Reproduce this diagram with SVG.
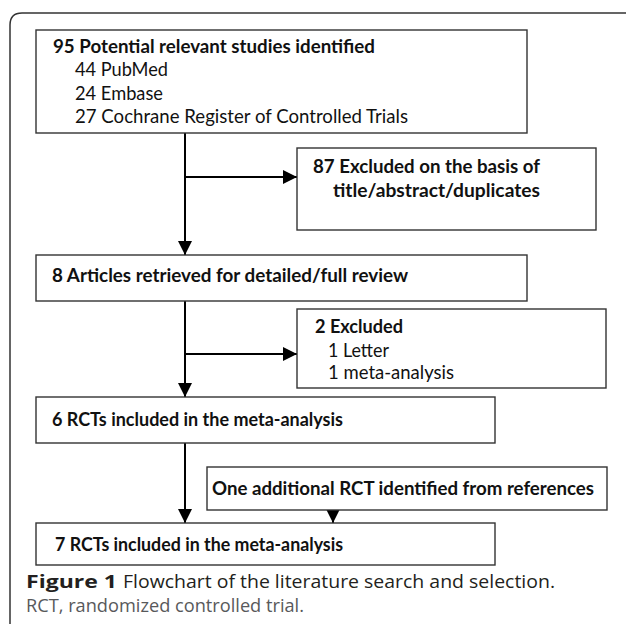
<svg xmlns="http://www.w3.org/2000/svg" width="628" height="624" viewBox="0 0 628 624">
<defs>
<marker id="ah" markerUnits="userSpaceOnUse" markerWidth="14" markerHeight="14" viewBox="0 0 12 12" refX="12" refY="6" orient="auto">
<path d="M0,0 L12,6 L0,12 Z" fill="#000"/>
</marker>
</defs>
<style>
.box{fill:#fff;stroke:#333;stroke-width:1.4}
.t{font-family:Lato,"Open Sans",sans-serif;font-size:19px;fill:#111}
.b{font-weight:700}
.c{stroke:#000;stroke-width:2;fill:none;marker-end:url(#ah)}
.cap{font-family:"Open Sans","Noto Sans",sans-serif;font-size:18px}
</style>
<rect width="628" height="624" fill="#fff"/>
<path d="M10,624 L10,25 Q10,13 22,13 L626,13" fill="none" stroke="#333" stroke-width="1.5"/>
<g id="connectors">
<line class="c" x1="185" y1="133" x2="185" y2="255"/>
<line class="c" x1="185" y1="177" x2="297" y2="177"/>
<line class="c" x1="185" y1="301" x2="185" y2="397"/>
<line class="c" x1="185" y1="354" x2="297" y2="354"/>
<line class="c" x1="185" y1="443" x2="185" y2="523"/>
<line class="c" x1="333" y1="510" x2="333" y2="523"/>
</g>
<g id="n1">
<rect class="box" x="36" y="30" width="491" height="103"/>
<text class="t b" x="53" y="53" textLength="322" lengthAdjust="spacingAndGlyphs">95 Potential relevant studies identified</text>
<text class="t" x="75" y="76" textLength="93" lengthAdjust="spacingAndGlyphs">44 PubMed</text>
<text class="t" x="75" y="100" textLength="88" lengthAdjust="spacingAndGlyphs">24 Embase</text>
<text class="t" x="75" y="123" textLength="333" lengthAdjust="spacingAndGlyphs">27 Cochrane Register of Controlled Trials</text>
</g>
<g id="n2">
<rect class="box" x="297" y="148" width="299" height="82"/>
<text class="t b" x="313" y="173" textLength="227" lengthAdjust="spacingAndGlyphs">87 Excluded on the basis of</text>
<text class="t b" x="333" y="197" textLength="207" lengthAdjust="spacingAndGlyphs">title/abstract/duplicates</text>
</g>
<g id="n3">
<rect class="box" x="36" y="255" width="491" height="46"/>
<text class="t b" x="52" y="282" textLength="356" lengthAdjust="spacingAndGlyphs">8 Articles retrieved for detailed/full review</text>
</g>
<g id="n4">
<rect class="box" x="297" y="309" width="309" height="79"/>
<text class="t b" x="315" y="333" textLength="88" lengthAdjust="spacingAndGlyphs">2 Excluded</text>
<text class="t" x="328" y="357" textLength="61" lengthAdjust="spacingAndGlyphs">1 Letter</text>
<text class="t" x="328" y="379" textLength="126" lengthAdjust="spacingAndGlyphs">1 meta-analysis</text>
</g>
<g id="n5">
<rect class="box" x="36" y="397" width="459" height="46"/>
<text class="t b" x="52" y="426" textLength="291" lengthAdjust="spacingAndGlyphs">6 RCTs included in the meta-analysis</text>
</g>
<g id="n6">
<rect class="box" x="207" y="467" width="400" height="43"/>
<text class="t b" x="212" y="495" textLength="382" lengthAdjust="spacingAndGlyphs">One additional RCT identified from references</text>
</g>
<g id="n7">
<rect class="box" x="36" y="523" width="459" height="42"/>
<text class="t b" x="55" y="551" textLength="288" lengthAdjust="spacingAndGlyphs">7 RCTs included in the meta-analysis</text>
</g>
<g id="caption">
<text class="cap" x="26" y="588" font-weight="700" fill="#231f20" textLength="91" lengthAdjust="spacingAndGlyphs">Figure 1</text>
<text class="cap" x="123" y="588" fill="#231f20" textLength="432" lengthAdjust="spacingAndGlyphs">Flowchart of the literature search and selection.</text>
<text class="cap" x="26" y="612" fill="#58595b" textLength="278" lengthAdjust="spacingAndGlyphs">RCT, randomized controlled trial.</text>
</g>
</svg>
